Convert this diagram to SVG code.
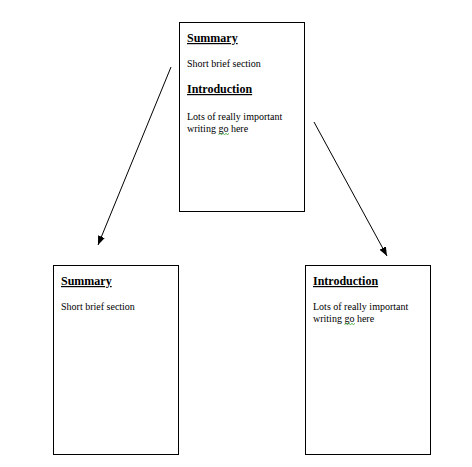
<svg xmlns="http://www.w3.org/2000/svg" width="472" height="467" viewBox="0 0 472 467">
<style>
.box{fill:#fff;stroke:#000;stroke-width:1}
.h{font-family:"Liberation Serif",serif;font-size:12px;font-weight:bold;text-decoration:underline;fill:#000}
.t{font-family:"Liberation Serif",serif;font-size:10px;fill:#000}
.conn{stroke:#000;stroke-width:1;fill:none;marker-end:url(#ah)}
.sq{stroke:#2a9a2a;stroke-width:0.8;fill:none}
</style>
<defs>
<marker id="ah" viewBox="0 0 10 10" refX="10" refY="5" markerWidth="9" markerHeight="9" markerUnits="userSpaceOnUse" orient="auto">
<path d="M0,1 L10,5 L0,9 z" fill="#000"/>
</marker>
</defs>
<rect width="472" height="467" fill="#fff"/>
<g id="connectors">
<line class="conn" x1="171" y1="67" x2="98" y2="245"/>
<line class="conn" x1="314" y1="122" x2="387" y2="256"/>
</g>
<g id="node-main">
<rect class="box" x="179.5" y="22.5" width="125" height="189"/>
<text class="h" x="187" y="42">Summary</text>
<text class="t" x="187" y="67">Short brief section</text>
<text class="h" x="187" y="93">Introduction</text>
<text class="t" x="187" y="120">Lots of really important</text>
<text class="t" x="187" y="132">writing go here</text>
<path class="sq" d="M218.5,134.5 l1.5,-1 l1.5,1 l1.5,-1 l1.5,1 l1.5,-1 l1.5,1 l1.5,-1"/>
</g>
<g id="node-summary">
<rect class="box" x="53.5" y="265.5" width="125" height="189"/>
<text class="h" x="61" y="285">Summary</text>
<text class="t" x="61" y="310">Short brief section</text>
</g>
<g id="node-introduction">
<rect class="box" x="305.5" y="265.5" width="125" height="189"/>
<text class="h" x="313" y="285">Introduction</text>
<text class="t" x="313" y="310">Lots of really important</text>
<text class="t" x="313" y="322">writing go here</text>
<path class="sq" d="M344.5,324.5 l1.5,-1 l1.5,1 l1.5,-1 l1.5,1 l1.5,-1 l1.5,1 l1.5,-1"/>
</g>
</svg>
